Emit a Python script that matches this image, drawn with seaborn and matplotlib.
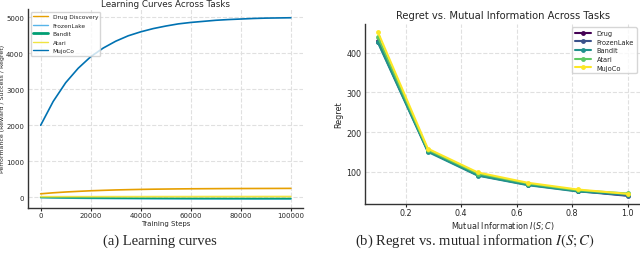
import matplotlib
matplotlib.use("Agg")
import matplotlib.pyplot as plt
import seaborn as sns
import pandas as pd

# (a) learning curves, values read at 5000-step intervals
steps = [0, 5000, 10000, 15000, 20000, 25000, 30000, 35000, 40000, 45000, 50000,
         55000, 60000, 65000, 70000, 75000, 80000, 85000, 90000, 95000, 100000]
drug = [100, 128, 150, 168, 184, 196, 207, 215, 222, 228, 232,
        236, 239, 241, 243, 245, 246, 247, 248, 249, 250]
frozenlake = [-5, -12, -18, -23, -27, -30, -33, -35, -37, -39, -40,
              -41, -42, -43, -43, -44, -44, -45, -45, -45, -45]
bandit = [0, -5, -9, -12, -15, -17, -19, -21, -22, -23, -24,
          -25, -26, -27, -27, -28, -28, -29, -29, -29, -30]
atari = [20, 20, 21, 21, 21, 22, 22, 22, 22, 23, 23,
         23, 23, 24, 24, 24, 24, 24, 25, 25, 25]
mujoco = [2000, 2660, 3180, 3580, 3900, 4140, 4330, 4480, 4590, 4680, 4750,
          4810, 4850, 4880, 4910, 4930, 4945, 4960, 4970, 4975, 4980]

curve_names = ["Drug Discovery", "FrozenLake", "Bandit", "Atari", "MujoCo"]
curve_colors = ["#E69F00", "#56B4E9", "#009E73", "#F0E442", "#0072B2"]

# (b) regret vs mutual information
mi = [0.1, 0.28, 0.46, 0.64, 0.82, 1.0]
regret_drug = [430, 153, 92, 68, 52, 40]
regret_frozen = [428, 152, 91, 67, 51, 39]
regret_bandit = [426, 150, 90, 66, 50, 42]
regret_atari = [440, 155, 95, 70, 53, 45]
regret_mujoco = [452, 158, 98, 72, 55, 44]
regret_names = ["Drug", "FrozenLake", "Bandit", "Atari", "MujoCo"]
regret_colors = ["#440154", "#3b528b", "#21918c", "#5ec962", "#fde725"]

sns.set_style("whitegrid", {"grid.linestyle": "--", "grid.color": "#e0e0e0",
                            "axes.edgecolor": "#333333"})

fig = plt.figure(figsize=(6.4, 2.55), dpi=100)
ax1 = fig.add_axes([0.044, 0.180, 0.430, 0.782])
ax2 = fig.add_axes([0.571, 0.196, 0.429, 0.706])

df1 = pd.DataFrame({"step": steps * 5,
                    "value": drug + frozenlake + bandit + atari + mujoco,
                    "task": sum([[n] * len(steps) for n in curve_names], [])})
sns.lineplot(data=df1, x="step", y="value", hue="task", palette=curve_colors,
             ax=ax1, linewidth=1.2)
for line in ax1.get_lines():
    if line.get_label() == "Bandit":
        line.set_linewidth(1.8)
ax1.set_title("Learning Curves Across Tasks", fontsize=6.3, pad=2)
ax1.set_xlabel("Training Steps", fontsize=5, labelpad=1)
ax1.set_ylabel("Performance (Reward / Success / Regret)", fontsize=4.5, labelpad=1)
ax1.tick_params(labelsize=5, length=2, pad=1)
ax1.set_xticks([0, 20000, 40000, 60000, 80000, 100000])
ax1.tick_params(axis="x", bottom=True)
leg1 = ax1.legend(loc="upper left", fontsize=4.2, frameon=True, handlelength=2.5,
                  borderpad=0.4, labelspacing=0.6)
for h in leg1.get_lines():
    h.set_linewidth(1.0)
leg1.get_lines()[2].set_linewidth(2)

df2 = pd.DataFrame({"mi": mi * 5,
                    "regret": regret_drug + regret_frozen + regret_bandit + regret_atari + regret_mujoco,
                    "task": sum([[n] * len(mi) for n in regret_names], [])})
sns.lineplot(data=df2, x="mi", y="regret", hue="task", palette=regret_colors,
             marker="o", markersize=3.5, markeredgewidth=0, linewidth=1.5, ax=ax2)
ax2.set_title("Regret vs. Mutual Information Across Tasks", fontsize=7.2, pad=4)
ax2.set_xlabel("Mutual Information $I(S;C)$", fontsize=5.8, labelpad=1)
ax2.set_ylabel("Regret", fontsize=5.8, labelpad=2)
ax2.tick_params(labelsize=5.8, length=2, pad=1)
ax2.set_yticks([100, 200, 300, 400])
ax2.tick_params(axis="x", bottom=True)
ax2.legend(loc="upper right", fontsize=4.8, frameon=True, handlelength=2.5,
           borderpad=0.4, labelspacing=0.4)

for ax in (ax1, ax2):
    sns.despine(ax=ax)
    ax.spines["left"].set_linewidth(1.0)
    ax.spines["bottom"].set_linewidth(1.0)

fig.text(0.25, 0.055, "(a) Learning curves", ha="center", va="center",
         fontsize=10.5, family="Liberation Serif")
fig.text(0.742, 0.055, "(b) Regret vs. mutual information $I(S;C)$", ha="center",
         va="center", fontsize=10.5, family="Liberation Serif", math_fontfamily="stix")

fig.savefig("out.png", dpi=100)
